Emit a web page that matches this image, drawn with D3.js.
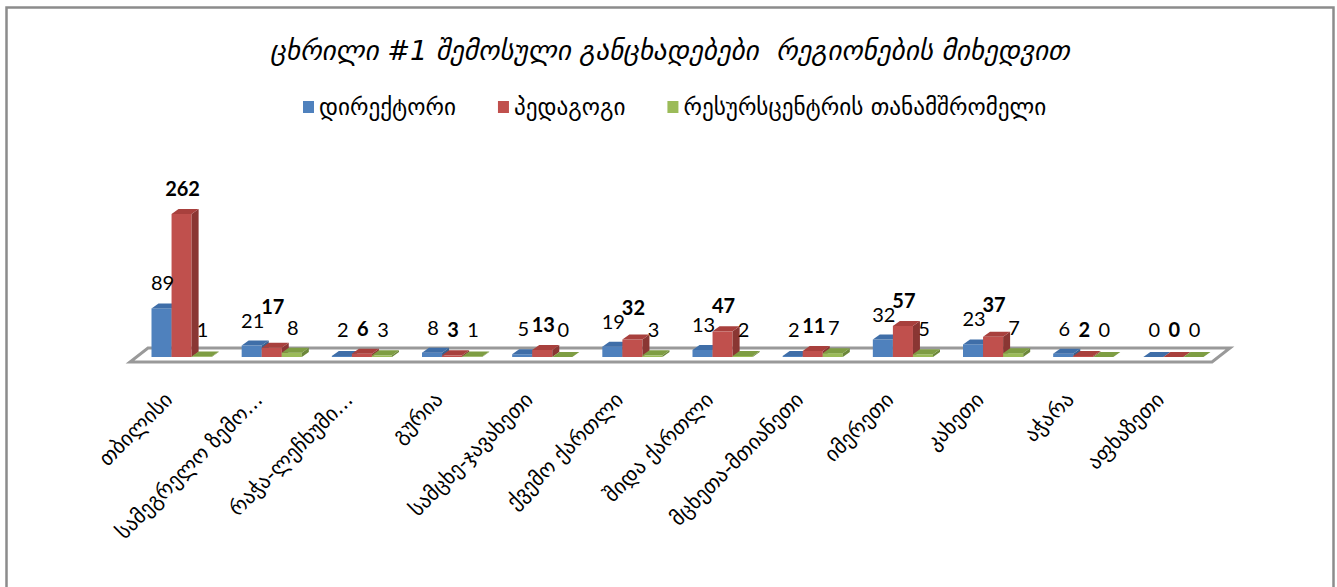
<!DOCTYPE html>
<html>
<head>
<meta charset="utf-8">
<script src="https://cdn.jsdelivr.net/npm/d3@7/dist/d3.min.js"></script>
<style>
  body { margin: 0; background: #fff; }
  svg { display: block; }
  text { white-space: pre; }
</style>
</head>
<body>
<div id="chart"></div>
<script>
// data
const title = 'ცხრილი #1 შემოსული განცხადებები  რეგიონების მიხედვით';
const regions = ['თბილისი', 'სამეგრელო ზემო...', 'რაჭა-ლეჩხუმი...', 'გურია', 'სამცხე-ჯავახეთი',
  'ქვემო ქართლი', 'შიდა ქართლი', 'მცხეთა-მთიანეთი', 'იმერეთი', 'კახეთი', 'აჭარა', 'აფხაზეთი'];
const seriesNames = ['დირექტორი', 'პედაგოგი', 'რესურსცენტრის თანამშრომელი'];
const directors = [89, 21, 2, 8, 5, 19, 13, 2, 32, 23, 6, 0];
const teachers = [262, 17, 6, 3, 13, 32, 47, 11, 57, 37, 2, 0];
const resourceStaff = [1, 8, 3, 1, 0, 3, 2, 7, 5, 7, 0, 0];

const series = [directors, teachers, resourceStaff];
const colors = [
  { front: '#4f81bd', top: '#3f6ea8', side: '#37608f' },
  { front: '#c0504d', top: '#a8403d', side: '#8a3633' },
  { front: '#9bbb59', top: '#7e9d43', side: '#6c873a' }
];

const W = 1337, H = 587;
const base = 357;            // front baseline of the bars
const dx = 7, dy = -5;       // bar depth
const fdx = 18, fdy = -14;   // floor depth

const svg = d3.select('#chart').append('svg')
  .attr('width', W)
  .attr('height', H);

svg.append('rect')
  .attr('x', 6.5).attr('y', 7.5)
  .attr('width', 1327).attr('height', 590)
  .attr('fill', '#fff')
  .attr('stroke', '#8c8c8c')
  .attr('stroke-width', 2.5);

const x = d3.scaleBand().domain(regions).range([136.5, 1218.5]);
const xs = d3.scaleBand().domain(d3.range(series.length)).range([15, x.bandwidth() - 15]);
const y = d3.scaleLinear().domain([0, d3.max(teachers)]).range([base, 214]);

// floor
const fx0 = x.range()[0] - 6.5, fx1 = x.range()[1] - 6.5, fy = 362;
svg.append('polygon')
  .attr('points', [[fx0, fy], [fx1, fy], [fx1 + fdx, fy + fdy], [fx0 + fdx, fy + fdy]].join(' '))
  .attr('fill', '#fff')
  .attr('stroke', '#999')
  .attr('stroke-width', 3)
  .attr('stroke-linejoin', 'miter');

// bars
const bars = [];
regions.forEach((r, i) => {
  series.forEach((s, j) => bars.push({ r, j, v: s[i] }));
});

const g = svg.append('g');
const bar = g.selectAll('g.bar').data(bars).enter().append('g').classed('bar', true);

bar.each(function(d) {
  const x0 = x(d.r) + xs(d.j), w = xs.bandwidth(), y0 = y(d.v);
  const el = d3.select(this), c = colors[d.j];
  el.append('rect')
    .attr('x', x0).attr('y', y0)
    .attr('width', w).attr('height', base - y0)
    .attr('fill', c.front);
  el.append('polygon')
    .attr('points', [[x0 + w, y0], [x0 + w + dx, y0 + dy], [x0 + w + dx, base + dy], [x0 + w, base]].join(' '))
    .attr('fill', c.side);
  el.append('polygon')
    .attr('points', [[x0, y0], [x0 + dx, y0 + dy], [x0 + w + dx, y0 + dy], [x0 + w, y0]].join(' '))
    .attr('fill', c.top);
});

// value labels
const labels = svg.append('g')
  .attr('font-family', 'Lato, "Open Sans", sans-serif')
  .attr('font-size', 20)
  .attr('fill', '#000')
  .attr('text-anchor', 'middle');

regions.forEach((r, i) => {
  const pos = series.map((s, j) => {
    const t = labels.append('text')
      .attr('x', x(r) + xs(j) + xs.bandwidth() / 2 + 1)
      .attr('font-weight', j === 1 ? 'bold' : null)
      .text(s[i]);
    return { t, yb: Math.min(337, y(s[i]) - 18), w: t.node().getComputedTextLength() };
  });
  // lift the bold label when it would run into its left neighbour
  const a = pos[0], b = pos[1];
  if ((a.w + b.w) / 2 > xs.step() - 1 && Math.abs(a.yb - b.yb) < 14) b.yb = Math.min(b.yb, a.yb - 14);
  pos.forEach(p => p.t.attr('y', p.yb));
});

// category labels
const axis = svg.append('g')
  .attr('font-family', '"DejaVu Sans", sans-serif')
  .attr('font-size', 21)
  .attr('fill', '#000');

axis.selectAll('text').data(regions).enter().append('text')
  .attr('text-anchor', 'end')
  .attr('transform', d => `translate(${x(d) + x.bandwidth() / 2 - 8},401) rotate(-45)`)
  .text(d => d);

// title
const tt = svg.append('text')
  .attr('x', 670).attr('y', 60)
  .attr('text-anchor', 'middle')
  .attr('font-family', '"DejaVu Sans", sans-serif')
  .attr('font-style', 'italic')
  .attr('font-size', 24)
  .text(title);
const tl = tt.node().getComputedTextLength();
tt.attr('font-size', 24 * 800 / tl);

// legend
const legend = svg.append('g')
  .attr('font-family', '"DejaVu Sans", sans-serif')
  .attr('font-size', 18);
const items = seriesNames.map((name, j) => {
  const sq = legend.append('rect')
    .attr('y', 101)
    .attr('width', 11).attr('height', 12)
    .attr('fill', colors[j].front);
  const t = legend.append('text').attr('y', 115).text(name);
  return { sq, t };
});
// size the legend text to the width seen in the picture
const lastW = items[2].t.node().getComputedTextLength();
legend.attr('font-size', 18 * 363 / lastW);
let lx = 303;
items.forEach(it => {
  it.sq.attr('x', lx);
  it.t.attr('x', lx + 16);
  lx += 16 + it.t.node().getComputedTextLength() + 42;
});
</script>
</body>
</html>
